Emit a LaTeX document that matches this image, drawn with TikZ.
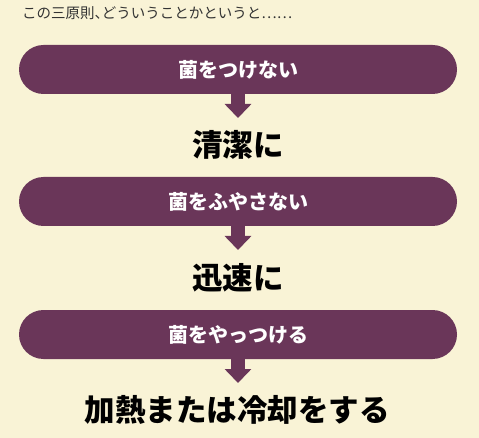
\documentclass[tikz,border=0pt]{standalone}
\usepackage{fontspec}
\newfontfamily\cjk{Noto Sans CJK JP}
\usetikzlibrary{arrows.meta}
\definecolor{bgcream}{RGB}{249,243,214}
\definecolor{pillpurple}{RGB}{106,54,89}
\definecolor{introgray}{RGB}{51,51,51}
\tikzset{
  pill/.style={fill=pillpurple, rounded corners=24.5pt, minimum width=438pt, minimum height=49pt, inner sep=0pt, text=white, font=\cjk\bfseries\fontsize{20}{22}\selectfont},
  result/.style={inner sep=0pt, text=black, font=\cjk\bfseries\fontsize{30.5}{34}\selectfont},
  intro/.style={inner sep=0pt, anchor=west, text=introgray, font=\cjk\fontsize{14.5}{17}\selectfont},
  flowarrow/.style={draw=pillpurple, line width=14pt, -{Triangle[width=26pt,length=14pt]}}
}
\begin{document}
\begin{tikzpicture}[x=1pt,y=-1pt]
\fill[bgcream] (0,0) rectangle (479,438);
\useasboundingbox (0,0) rectangle (479,438);
\node[intro] (intro) at (22,13.5) {この三原則、\kern-0.5emどういうことかというと⋯⋯};
\node[pill] (p1) at (238,69.5) {菌をつけない};
\node[result] (r1) at (238,145) {清潔に};
\node[pill] (p2) at (238,201.5) {菌をふやさない};
\node[result] (r2) at (238,278) {迅速に};
\node[pill] (p3) at (238,334.5) {菌をやっつける};
\node[result] (r3) at (237,410) {加熱または冷却をする};
\coordinate (a1) at (238,118);
\coordinate (a2) at (238,250);
\coordinate (a3) at (238,383);
\draw[flowarrow] ([yshift=1pt]p1.south) -- (a1);
\draw[flowarrow] ([yshift=1pt]p2.south) -- (a2);
\draw[flowarrow] ([yshift=1pt]p3.south) -- (a3);
\end{tikzpicture}
\end{document}
